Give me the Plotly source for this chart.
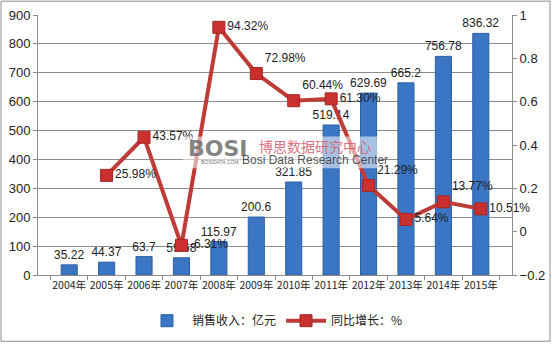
import plotly.graph_objects as go

# 销售收入 (亿元) and 同比增长 by year
years = ["2004年", "2005年", "2006年", "2007年", "2008年", "2009年",
         "2010年", "2011年", "2012年", "2013年", "2014年", "2015年"]
revenue = [35.22, 44.37, 63.7, 59.68, 115.97, 200.6,
           321.85, 519.14, 629.69, 665.2, 756.78, 836.32]
growth = [None, 0.2598, 0.4357, -0.0631, 0.9432, 0.7298,
          0.6044, 0.6130, 0.2129, 0.0564, 0.1377, 0.1051]
growth_pos = ["middle right", "middle right", "middle right", "middle right",
              "middle right", "top right", "top right", "middle right",
              "top right", "middle right", "top right", "middle right"]

FONT = "Liberation Sans, Noto Sans CJK SC, sans-serif"
CJK = "Noto Sans CJK SC, sans-serif"

fig = go.Figure()

fig.add_trace(go.Bar(
    x=years, y=revenue, name="销售收入：亿元",
    marker=dict(color="#3B76C4", line=dict(color="#2C5E9E", width=1)),
    texttemplate="%{y}", textposition="outside", cliponaxis=False,
    constraintext="none",
    textfont=dict(size=12, color="#222222", family=FONT),
))

fig.add_trace(go.Scatter(
    x=years, y=growth, name="同比增长：%", yaxis="y2",
    mode="lines+markers+text",
    line=dict(color="#BF3B38", width=4),
    marker=dict(symbol="square", size=12, color="#C9302E",
                line=dict(color="#A52724", width=1)),
    texttemplate="%{y:.2%}", textposition=growth_pos, cliponaxis=False,
    textfont=dict(size=12, color="#222222", family=FONT),
))

# watermark
fig.add_shape(type="rect", xref="paper", yref="paper",
              x0=(183 - 38) / 474, x1=(380 - 38) / 474,
              y0=(278 - 170) / 263, y1=(278 - 138) / 263,
              fillcolor="rgba(255,255,255,0.55)", line=dict(width=0), layer="above")
fig.add_annotation(xref="paper", yref="paper", x=(218 - 38) / 474, y=(278 - 150) / 263,
                   text="<b>BOSI</b>", showarrow=False,
                   font=dict(size=22, color="rgba(110,110,110,0.85)", family="DejaVu Sans"))
fig.add_annotation(xref="paper", yref="paper", x=(220 - 38) / 474, y=(278 - 164) / 263,
                   text="BOSIDATA.COM", showarrow=False,
                   font=dict(size=5, color="rgba(90,90,90,0.9)", family=FONT))
fig.add_annotation(xref="paper", yref="paper", x=(315 - 38) / 474, y=(278 - 148) / 263,
                   text="博思数据研究中心", showarrow=False,
                   font=dict(size=14, color="rgba(214,96,110,0.9)", family=CJK))
fig.add_annotation(xref="paper", yref="paper", x=(315 - 38) / 474, y=(278 - 162) / 263,
                   text="Bosi Data Research Center", showarrow=False,
                   font=dict(size=12, color="rgba(60,60,60,0.9)", family=FONT))

# outer frame
fig.add_shape(type="rect", xref="paper", yref="paper",
              x0=(1 - 38) / 474, x1=(550 - 38) / 474,
              y0=(278 - 345) / 263, y1=(278 - 1) / 263,
              line=dict(color="#8C8C8C", width=1), fillcolor="rgba(0,0,0,0)")

fig.update_layout(
    width=552, height=347,
    margin=dict(l=38, r=40, t=15, b=69),
    paper_bgcolor="white", plot_bgcolor="white",
    font=dict(family=FONT, size=12, color="#222222"),
    bargap=0.57,
    showlegend=True,
    legend=dict(orientation="h", x=0.5, xanchor="center", y=-0.12, yanchor="top",
                font=dict(size=12, family=CJK), itemwidth=40),
    xaxis=dict(type="category", showline=True, linecolor="#8C8C8C", linewidth=1,
               ticks="outside", ticklen=4, tickcolor="#8C8C8C",
               tickson="boundaries", showgrid=False, tickangle=0, automargin=False,
               tickfont=dict(size=10.5, family=CJK)),
    yaxis=dict(range=[0, 900], dtick=100, showline=True, linecolor="#8C8C8C",
               gridcolor="#8C8C8C", gridwidth=1, zeroline=False,
               ticks="outside", ticklen=4, tickcolor="#8C8C8C", automargin=False,
               tickfont=dict(size=13)),
    yaxis2=dict(range=[-0.2, 1.0], dtick=0.2, overlaying="y", side="right",
                showline=True, linecolor="#8C8C8C", showgrid=False, zeroline=False,
                ticks="outside", ticklen=4, tickcolor="#8C8C8C", automargin=False,
                tickformat="~g", tickfont=dict(size=13)),
)

fig.write_html("out.html")
